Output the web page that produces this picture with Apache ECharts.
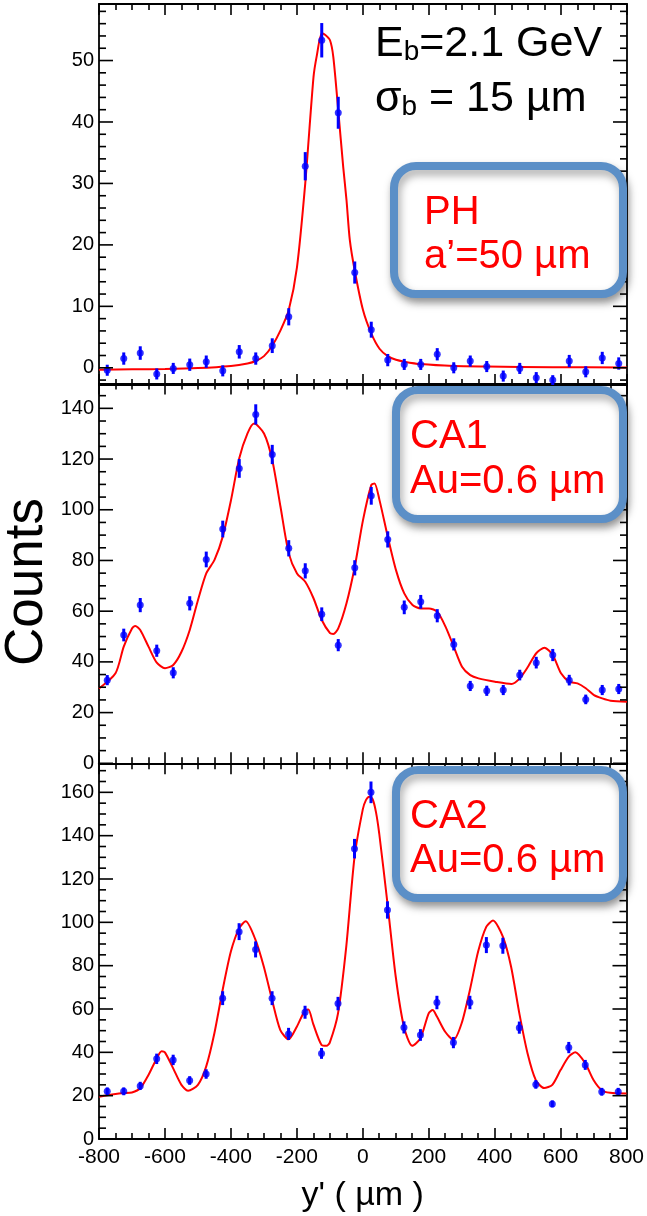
<!DOCTYPE html>
<html>
<head>
<meta charset="utf-8">
<script src="https://cdn.jsdelivr.net/npm/echarts@6/dist/echarts.min.js"></script>
<style>
html,body{margin:0;padding:0;background:#fff;}
#chart{width:647px;height:1216px;}
</style>
</head>
<body>
<div id="chart"></div>
<script>
// ---------------- data ----------------
const binCenters = [-775,-725,-675,-625,-575,-525,-475,-425,-375,-325,-275,-225,-175,-125,-75,-25,
                    25,75,125,175,225,275,325,375,425,475,525,575,625,675,725,775];

// Panel 1 : PH, a'=50 um
const phCounts = [-0.4,1.5,2.4,-1.0,-0.1,0.5,1.0,-0.5,2.6,1.5,3.6,8.3,32.8,53.3,41.5,15.5,
                  6.2,1.25,0.55,0.55,2.2,0.0,1.1,0.2,-1.35,-0.1,-1.6,-2.0,1.1,-0.65,1.6,0.7];
const phErrors = [0.9,1.0,1.1,0.9,0.9,1.0,1.0,0.9,1.1,1.0,1.2,1.4,2.3,2.8,2.6,1.8,
                  1.3,1.0,0.9,0.9,1.0,0.9,0.9,0.9,0.9,0.9,0.9,0.8,1.0,0.9,1.0,1.0];
const phFitX = [-800,-700,-600,-500,-400,-350,-325,-300,-275,-250,-225,-200,-175,-150,-140,-125,-115,-100,-90,-75,-60,-50,-40,-25,0,25,50,75,100,125,175,275,375,575,800];
const phFitY = [-0.3,-0.25,-0.2,-0.05,0.3,0.7,1.1,1.9,3.6,6.1,9.4,16.4,30.0,47.3,50.8,54.4,54.2,53.3,50.6,41.9,32.7,27.3,20.8,15.8,9.4,5.6,3.1,1.9,1.3,1.0,0.6,0.28,0.2,0.1,0.05];

// Panel 2 : CA1, Au=0.6 um
const ca1Counts = [32.8,50.6,62.4,44.4,35.7,63.1,80.4,92.4,116.3,137.6,121.8,84.8,75.9,58.8,46.6,77.1,
                   105.5,88.3,61.5,63.7,58.2,46.9,30.5,28.6,28.9,34.8,39.7,42.7,32.8,25.2,28.9,29.3];
const ca1Errors = [2.0,2.5,2.8,2.4,2.2,2.8,3.1,3.3,3.7,4.0,3.8,3.2,3.0,2.7,2.4,3.0,
                   3.5,3.2,2.7,2.7,2.6,2.4,2.0,2.0,2.0,2.1,2.3,2.4,2.1,1.9,2.0,2.0];
const ca1FitX = [-800,-750,-725,-700,-690,-675,-650,-625,-600,-575,-550,-525,-500,-475,-450,-425,-400,-375,-350,-330,-300,-275,-250,-225,-200,-175,-150,-125,-100,-90,-75,-50,-25,0,25,35,50,75,100,125,150,175,200,225,250,275,300,325,350,400,450,475,500,525,550,575,600,625,650,675,700,725,750,800];
const ca1FitY = [29.5,35.5,46,53.2,54.2,52.6,46,39.7,37.5,38.8,44,52.6,64.4,74.9,80.2,89.4,103.8,120.3,130.1,134,130.1,119.6,101.2,82.8,74.9,71.6,65.1,56.5,51.3,51,53.2,63.1,77.5,95.9,109.7,110.4,103.8,89.4,76.2,67,62.4,61.1,61.1,59.8,53.9,46,38.1,34.8,33.5,32.2,31.3,33.5,38.1,43.4,45.6,42.7,35.5,32.2,31.5,29.6,26.9,25.6,24.7,24.3];

// Panel 3 : CA2, Au=0.6 um
const ca2Counts = [22,22,24.5,37,36.5,27,30,65,95.7,87.5,65,48.5,58.5,39.5,62.5,134,
                   160,105.7,51.5,48,63,44.5,63,89.5,89.2,51.4,25.2,16.2,42.2,34.2,21.8,21.8];
const ca2Errors = [1.8,1.8,1.9,2.4,2.4,2.0,2.2,3.2,3.9,3.7,3.2,2.8,3.0,2.5,3.1,4.5,
                   5.0,4.0,2.8,2.7,3.1,2.6,3.1,3.7,3.7,2.8,2.0,1.6,2.6,2.3,1.8,1.8];
const ca2FitX = [-800,-775,-750,-725,-700,-675,-650,-625,-610,-600,-575,-550,-530,-500,-475,-450,-425,-400,-375,-355,-325,-300,-275,-250,-225,-200,-175,-165,-150,-125,-110,-100,-75,-50,-25,0,10,20,30,40,50,75,100,125,150,175,200,212,225,250,275,300,325,350,375,395,425,450,475,500,525,550,575,600,625,645,675,700,725,750,800];
const ca2FitY = [19.5,20.2,20.8,21.2,21.5,23.4,29.5,37.2,40.5,40,32.6,25,22.3,25,33.4,48.8,68.8,86.5,97.2,100.5,91.8,79.5,64.2,50.3,46,51.8,59.5,59.8,53,43.4,43,44.5,58,88.8,130,152,156.5,158,156.8,151,141,108.8,75,51.8,43,46.5,58,59.5,56.5,49.5,45.7,53.4,68.8,86.5,98,100.8,93.4,79.5,58,39.5,27.2,23.5,25,31.8,38,40,34.9,27.2,22.5,21.3,21];

// axis ranges and tick values
const xRange = [-800, 800];
const phRange = [-2.8, 59.2];
const ca1Range = [0, 149.8];
const ca2Range = [0, 173.4];
const phMajor = [0,10,20,30,40,50];
const phMinor = [-2,2,4,6,8,12,14,16,18,22,24,26,28,32,34,36,38,42,44,46,48,52,54,56,58];
const ca1Major = [0,20,40,60,80,100,120,140];
const ca1Minor = [5,10,15,25,30,35,45,50,55,65,70,75,85,90,95,105,110,115,125,130,135,145];
const ca2Major = [0,20,40,60,80,100,120,140,160];
const ca2Minor = [5,10,15,25,30,35,45,50,55,65,70,75,85,90,95,105,110,115,125,130,135,145,150,155,165,170];

const titles = {
  beam: 'E', beamSub: 'b', beamRest: '=2.1 GeV',
  sigma: 'σ', sigmaSub: 'b', sigmaRest: ' = 15 µm',
  boxes: [['PH', 'a’=50 µm'], ['CA1', 'Au=0.6 µm'], ['CA2', 'Au=0.6 µm']],
  xName: "y' ( µm )", yName: 'Counts'
};

// ---------------- layout ----------------
const FONT = '"Liberation Sans", Arial, Helvetica, sans-serif';
const grids = [
  {left: 99, top: 4, width: 528, height: 381},
  {left: 99, top: 383.5, width: 528, height: 379.8},
  {left: 99, top: 763.3, width: 528, height: 375.7}
];
const panels = [
  {counts: phCounts, errs: phErrors, fx: phFitX, fy: phFitY, range: phRange, major: phMajor, minor: phMinor},
  {counts: ca1Counts, errs: ca1Errors, fx: ca1FitX, fy: ca1FitY, range: ca1Range, major: ca1Major, minor: ca1Minor},
  {counts: ca2Counts, errs: ca2Errors, fx: ca2FitX, fy: ca2FitY, range: ca2Range, major: ca2Major, minor: ca2Minor}
];
const MAJOR_LEN = 14, MINOR_LEN = 7;

const lineStyle = {color: '#000', width: 1.8};
const tickLine = {color: '#000', width: 1.6};
const xAxes = [], yAxes = [], series = [];
panels.forEach((p, g) => {
  ['bottom', 'top'].forEach(pos => {
    const isLabel = (g === 2 && pos === 'bottom');
    xAxes.push({
      gridIndex: g, type: 'value', position: pos, min: xRange[0], max: xRange[1], interval: 200,
      axisLine: {show: true, onZero: false, lineStyle},
      axisTick: {show: true, inside: true, length: 11, lineStyle: tickLine},
      minorTick: {show: true, splitNumber: 4, length: 6, lineStyle: tickLine},
      splitLine: {show: false},
      axisLabel: {show: isLabel, color: '#000', fontFamily: FONT, fontSize: 21, margin: 8},
      name: isLabel ? titles.xName : '',
      nameLocation: 'middle', nameGap: 40,
      nameTextStyle: {color: '#000', fontFamily: FONT, fontSize: 34}
    });
  });
  ['left', 'right'].forEach(pos => {
    yAxes.push({
      gridIndex: g, type: 'value', position: pos, min: p.range[0], max: p.range[1],
      axisLine: {show: true, onZero: false, lineStyle},
      axisTick: {show: false},
      axisLabel: {show: pos === 'left', customValues: p.major, color: '#000', fontFamily: FONT, fontSize: 20, margin: 5},
      splitLine: {show: false}
    });
  });
  const yi = g * 2, xi = g * 2;
  // y-axis ticks on both sides, placed through the axis scales
  const tickData = [];
  p.minor.forEach(v => { tickData.push([xRange[0], v, MINOR_LEN]); tickData.push([xRange[1], v, -MINOR_LEN]); });
  p.major.forEach(v => { tickData.push([xRange[0], v, MAJOR_LEN]); tickData.push([xRange[1], v, -MAJOR_LEN]); });
  series.push({
    type: 'custom', xAxisIndex: xi, yAxisIndex: yi, z: 6, silent: true, clip: false,
    data: tickData, encode: {x: 0, y: 1},
    renderItem: (params, api) => {
      const c = api.coord([api.value(0), api.value(1)]);
      const len = api.value(2);
      return {type: 'line', shape: {x1: c[0], y1: c[1], x2: c[0] + len, y2: c[1]},
              style: {stroke: '#000', lineWidth: 1.6}};
    }
  });
  series.push({
    type: 'line', xAxisIndex: xi, yAxisIndex: yi, showSymbol: false, smooth: 0.25,
    data: p.fx.map((x, i) => [x, p.fy[i]]),
    lineStyle: {color: '#ff0000', width: 2}, z: 3, silent: true
  });
  series.push({
    type: 'custom', xAxisIndex: xi, yAxisIndex: yi, z: 4,
    data: binCenters.map((x, i) => [x, p.counts[i], p.errs[i]]),
    encode: {x: 0, y: 1},
    renderItem: (params, api) => {
      const x = api.value(0), v = api.value(1), e = api.value(2);
      const a = api.coord([x, v - e]);
      const b = api.coord([x, v + e]);
      return {type: 'line', shape: {x1: a[0], y1: a[1], x2: b[0], y2: b[1]},
              style: {stroke: '#0000ff', lineWidth: 3}};
    }
  });
  series.push({
    type: 'scatter', xAxisIndex: xi, yAxisIndex: yi, z: 5,
    data: binCenters.map((x, i) => [x, p.counts[i]]),
    symbol: 'circle', symbolSize: 7, itemStyle: {color: '#0000ff'}
  });
});

// annotation boxes
const boxRects = [
  {x: 394, y: 166, w: 229, h: 128},
  {x: 396, y: 390, w: 227, h: 129},
  {x: 396, y: 770, w: 227, h: 128}
];
const boxText = [
  {x: 424, y1: 213, y2: 257},
  {x: 410, y1: 437, y2: 482},
  {x: 410, y1: 817, y2: 861}
];
const graphics = [];
boxRects.forEach((r, i) => {
  graphics.push({
    type: 'rect', z: 100,
    shape: {x: r.x, y: r.y, width: r.w, height: r.h, r: 22},
    style: {fill: '#fff', stroke: '#5b8fc7', lineWidth: 8,
            shadowBlur: 8, shadowColor: 'rgba(0,0,0,0.35)', shadowOffsetX: 2, shadowOffsetY: 5}
  });
  const t = boxText[i];
  graphics.push({type: 'text', z: 101, x: t.x, y: t.y1,
    style: {text: titles.boxes[i][0], fill: '#ff0000', font: '40px ' + FONT, textAlign: 'left', textVerticalAlign: 'middle'}});
  graphics.push({type: 'text', z: 101, x: t.x, y: t.y2,
    style: {text: titles.boxes[i][1], fill: '#ff0000', font: '40px ' + FONT, textAlign: 'left', textVerticalAlign: 'middle'}});
});
// beam info with subscripts
function subText(main, sub, rest, x, yTop) {
  return {
    type: 'text', z: 101, x: x, y: yTop,
    style: {
      text: '{m|' + main + '}{s|' + sub + '}{m|' + rest + '}',
      rich: {
        m: {fontSize: 43, fontFamily: FONT, fill: '#000', lineHeight: 44, verticalAlign: 'middle'},
        s: {fontSize: 28, fontFamily: FONT, fill: '#000', lineHeight: 16, verticalAlign: 'bottom'}
      }
    }
  };
}
graphics.push(subText(titles.beam, titles.beamSub, titles.beamRest, 375, 22));
graphics.push(subText(titles.sigma, titles.sigmaSub, titles.sigmaRest, 375, 77));
graphics.push({
  type: 'text', z: 101, x: 27, y: 582, rotation: Math.PI / 2,
  style: {text: titles.yName, fill: '#000', font: '53px ' + FONT, textAlign: 'center', textVerticalAlign: 'middle'}
});

const chart = echarts.init(document.getElementById('chart'), null, {renderer: 'canvas'});
chart.setOption({
  animation: false,
  backgroundColor: '#fff',
  grid: grids,
  xAxis: xAxes,
  yAxis: yAxes,
  series: series,
  graphic: graphics
});
</script>
</body>
</html>
